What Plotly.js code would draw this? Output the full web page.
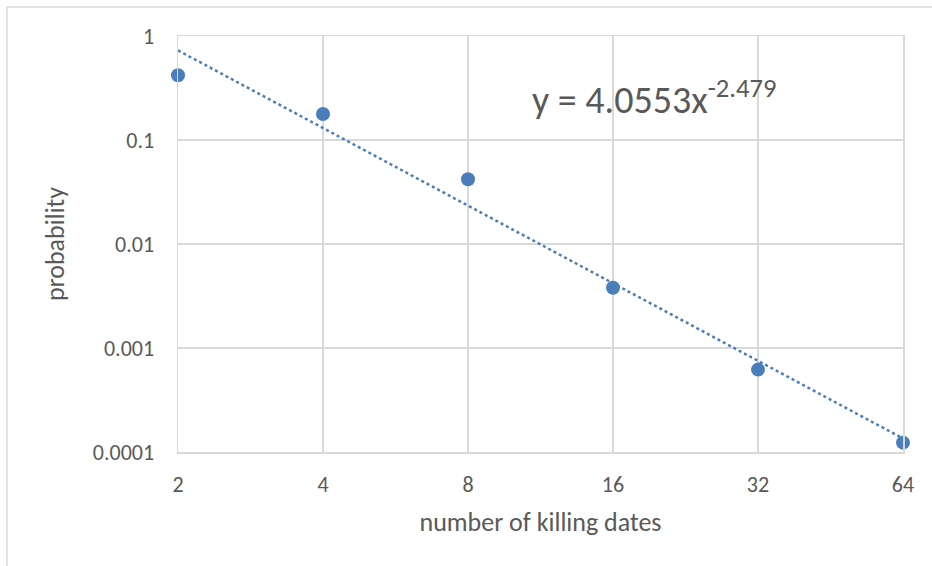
<!DOCTYPE html>
<html>
<head>
<meta charset="utf-8">
<script src="https://cdn.plot.ly/plotly-3.0.1.min.js"></script>
<style>
html,body{margin:0;padding:0;background:#fff;}
#chart{width:932px;height:566px;}
</style>
</head>
<body>
<div id="chart"></div>
<script>
// Data
const killingDates = [2, 4, 8, 16, 32, 64];
const probability = [0.42, 0.178, 0.042, 0.0038, 0.00062, 0.000123];
const trendX = [2, 64];
const trendY = [0.727, 0.000135];
const xTickVals = [2, 4, 8, 16, 32, 64];
const xTickText = ['2', '4', '8', '16', '32', '64'];
const yTickVals = [0.0001, 0.001, 0.01, 0.1, 1];
const yTickText = ['0.0001', '0.001', '0.01', '0.1', '1'];
const equationText = 'y = 4.0553x<sup>-2.479</sup>';

const blue = '#4a7ebb';
const grid = '#d9d9d9';
const txt = '#595959';
const fontFam = 'Carlito, Calibri, "Open Sans", "Liberation Sans", sans-serif';
const eps = 1e-6;

const traces = [
  {
    x: trendX, y: trendY, type: 'scatter', mode: 'lines',
    line: {color: blue, width: 2.5, dash: 'dot'},
    hoverinfo: 'skip', showlegend: false, cliponaxis: false
  },
  {
    x: killingDates, y: probability, type: 'scatter', mode: 'markers',
    marker: {color: blue, size: 14},
    showlegend: false, cliponaxis: false
  }
];

const layout = {
  width: 932, height: 566,
  margin: {l: 178, r: 29, t: 36, b: 114},
  paper_bgcolor: '#fff', plot_bgcolor: '#fff',
  font: {family: fontFam, color: txt, size: 22},
  xaxis: {
    type: 'log',
    range: [Math.log10(2) - eps, Math.log10(64) + eps],
    tickvals: xTickVals, ticktext: xTickText,
    showgrid: true, gridcolor: grid, gridwidth: 1.5,
    zeroline: false, showline: true, linecolor: grid, linewidth: 1.5, mirror: true,
    ticks: 'outside', ticklen: 12, tickcolor: 'rgba(0,0,0,0)',
    tickfont: {size: 22, color: txt, family: fontFam},
    title: {text: 'number of killing dates', font: {size: 26, color: txt, family: fontFam}, standoff: 16},
    automargin: false
  },
  yaxis: {
    type: 'log',
    range: [-4 - eps, 0 + eps],
    tickvals: yTickVals, ticktext: yTickText,
    showgrid: true, gridcolor: grid, gridwidth: 1.5,
    zeroline: false, showline: true, linecolor: grid, linewidth: 1.5, mirror: true,
    ticks: 'outside', ticklen: 18, tickcolor: 'rgba(0,0,0,0)',
    tickfont: {size: 22, color: txt, family: fontFam},
    title: {text: 'probability', font: {size: 26, color: txt, family: fontFam}, standoff: 20},
    automargin: false
  },
  annotations: [
    {
      xref: 'paper', yref: 'paper', x: 0.485, y: 0.853,
      xanchor: 'left', yanchor: 'middle', showarrow: false,
      text: equationText,
      font: {size: 38, color: txt, family: fontFam}
    }
  ],
  shapes: [
    {type: 'line', xref: 'paper', yref: 'paper', x0: -0.236, x1: 1.1, y0: 1.0696, y1: 1.0696,
     line: {color: grid, width: 1.5}},
    {type: 'line', xref: 'paper', yref: 'paper', x0: -0.236, x1: -0.236, y0: -0.3, y1: 1.0696,
     line: {color: grid, width: 1.5}}
  ]
};

Plotly.newPlot('chart', traces, layout, {displayModeBar: false, staticPlot: true});
</script>
</body>
</html>
